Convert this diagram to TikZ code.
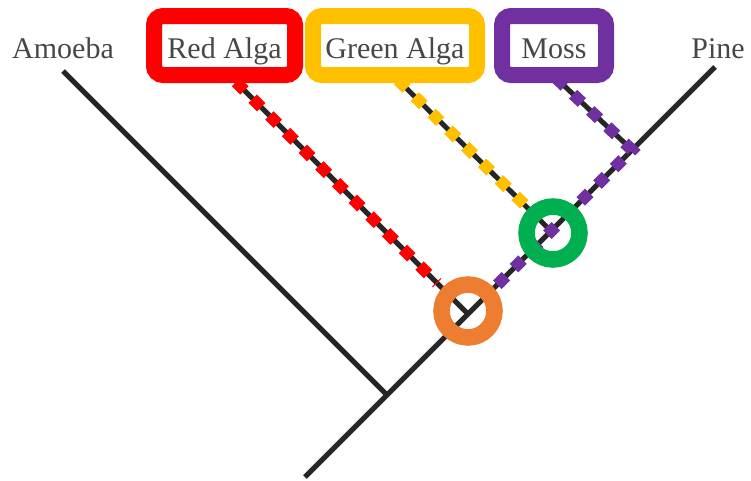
\documentclass[tikz,border=0pt]{standalone}
\usepackage{fontspec}
\setmainfont{Liberation Serif}
\definecolor{algred}{HTML}{FF0000}
\definecolor{algyellow}{HTML}{FFC000}
\definecolor{mosspurple}{HTML}{7030A0}
\definecolor{ringorange}{HTML}{ED7D31}
\definecolor{ringgreen}{HTML}{00B050}
\definecolor{inkgray}{HTML}{474747}
\definecolor{stemblack}{HTML}{262626}

\tikzset{
  taxon/.style={font=\fontsize{30}{36}\selectfont, text=inkgray, inner sep=0pt},
  tagbox/.style={draw=#1, line width=16pt, rounded corners=9pt, fill=white,
                 minimum height=59pt, text height=25pt, text depth=0pt},
  branch/.style={stemblack, line width=5pt},
  hl/.style={#1, line width=12pt, dash pattern=on 12pt off 11.6pt},
  ring/.style={circle, draw=#1, line width=16.5pt, minimum size=53pt, inner sep=0pt}
}

\begin{document}
\begin{tikzpicture}[x=1pt, y=-1pt]
\useasboundingbox (0,0) rectangle (751,480);

% tree skeleton
\coordinate (root) at (305,477);
\coordinate (nAmoeba) at (387,395);
\coordinate (nRed) at (468,314);
\coordinate (nGreen) at (551,231);
\coordinate (nMoss) at (632,150);
\coordinate (tPine) at (715,67);
\coordinate (tAmoeba) at (63,71);
\coordinate (tRed) at (236,82);
\coordinate (tGreen) at (398,80);
\coordinate (tMoss) at (556,78);

\draw[branch] (root) -- (tPine);
\foreach \n in {Amoeba,Red,Green,Moss}
  \draw[branch] (n\n) -- (t\n);

% shared lineages
\coordinate (eRed) at (437,283);
\coordinate (eGreen) at (535,215);
\coordinate (ePurple) at (495,287);
\draw[hl=algred] (tRed) -- (eRed);
\draw[hl=algyellow] (tGreen) -- (eGreen);
\draw[hl=mosspurple] (tMoss) -- (nMoss) -- (ePurple);

% common ancestors
\node[ring=ringorange] (oRing) at (468,311) {};
\node[ring=ringgreen] (gRing) at (553,233) {};

% taxa
\node[taxon, anchor=base] (amoeba) at (63,58) {Amoeba};
\node[taxon, anchor=base] (pine) at (718,58) {Pine};
\node[taxon, tagbox=algred, minimum width=141pt] (red) at (224.5,45.5) {Red Alga};
\node[taxon, tagbox=algyellow, minimum width=164pt] (green) at (395,45.5) {Green Alga};
\node[taxon, tagbox=mosspurple, minimum width=104pt] (moss) at (554,45.5) {Moss};

\end{tikzpicture}
\end{document}
